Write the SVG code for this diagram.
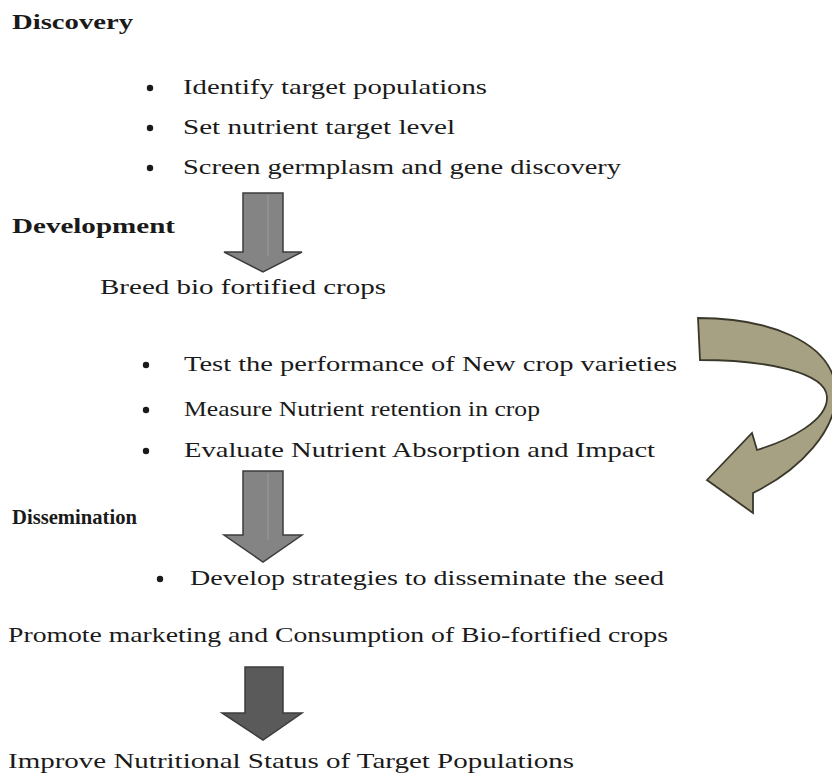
<svg xmlns="http://www.w3.org/2000/svg" width="832" height="778" viewBox="0 0 832 778">
<style>
text{font-family:"Liberation Serif","Times New Roman",serif;font-size:21px;fill:#1a1a1a}
.h{font-weight:bold}
.b{fill:#1a1a1a}
.arr{fill:#848484;stroke:#3c3c3c;stroke-width:1.5}
.arrd{fill:#5a5a5a;stroke:#3c3c3c;stroke-width:1.5}
.curve{fill:#a7a184;stroke:#3a382a;stroke-width:1.8}
</style>
<rect width="832" height="778" fill="#ffffff"/>
<g id="discovery">
<text class="h" x="12" y="29" textLength="121" lengthAdjust="spacingAndGlyphs">Discovery</text>
<circle class="b" cx="150" cy="88" r="3.2"/>
<text x="183" y="94" textLength="304" lengthAdjust="spacingAndGlyphs">Identify target populations</text>
<circle class="b" cx="150" cy="128" r="3.2"/>
<text x="183" y="134" textLength="272" lengthAdjust="spacingAndGlyphs">Set nutrient target level</text>
<circle class="b" cx="150" cy="168" r="3.2"/>
<text x="183" y="174" textLength="438" lengthAdjust="spacingAndGlyphs">Screen germplasm and gene discovery</text>
</g>
<g id="development">
<text class="h" x="12" y="233" textLength="163" lengthAdjust="spacingAndGlyphs">Development</text>
<text x="100" y="294" textLength="286" lengthAdjust="spacingAndGlyphs">Breed bio fortified crops</text>
<circle class="b" cx="146" cy="365" r="3.2"/>
<text x="184" y="371" textLength="493" lengthAdjust="spacingAndGlyphs">Test the performance of New crop varieties</text>
<circle class="b" cx="146" cy="410" r="3.2"/>
<text x="184" y="416" textLength="356" lengthAdjust="spacingAndGlyphs">Measure Nutrient retention in crop</text>
<circle class="b" cx="146" cy="451" r="3.2"/>
<text x="184" y="457" textLength="471" lengthAdjust="spacingAndGlyphs">Evaluate Nutrient Absorption and Impact</text>
</g>
<g id="dissemination">
<text class="h" x="12" y="524" textLength="125" lengthAdjust="spacingAndGlyphs">Dissemination</text>
<circle class="b" cx="160" cy="579" r="3.2"/>
<text x="190" y="585" textLength="474" lengthAdjust="spacingAndGlyphs">Develop strategies to disseminate the seed</text>
<text x="8" y="642" textLength="660" lengthAdjust="spacingAndGlyphs">Promote marketing and Consumption of Bio-fortified crops</text>
</g>
<g id="outcome">
<text x="8" y="768" textLength="566" lengthAdjust="spacingAndGlyphs">Improve Nutritional Status of Target Populations</text>
</g>
<g id="connectors">
<path class="arr" d="M243,193 H283 V252 H302 L263,272 L224,252 H243 Z"/>
<line x1="268" y1="195" x2="268" y2="256" stroke="#9a9a9a" stroke-width="1"/>
<path class="arr" d="M243,471 H283 V535 H302 L263,562 L224,535 H243 Z"/>
<line x1="268" y1="473" x2="268" y2="540" stroke="#9a9a9a" stroke-width="1"/>
<path class="arrd" d="M245,667 H283 V713 H302 L263,740 L222,713 H245 Z"/>
<path class="curve" d="M698,318 C765,318 832,340 836,390 C838,430 800,470 753,493 L753,513 L707,480 L752,433 L757,450 C790,440 828,420 827,397 C826,372 765,360 700,360 Z"/>
</g>
</svg>
